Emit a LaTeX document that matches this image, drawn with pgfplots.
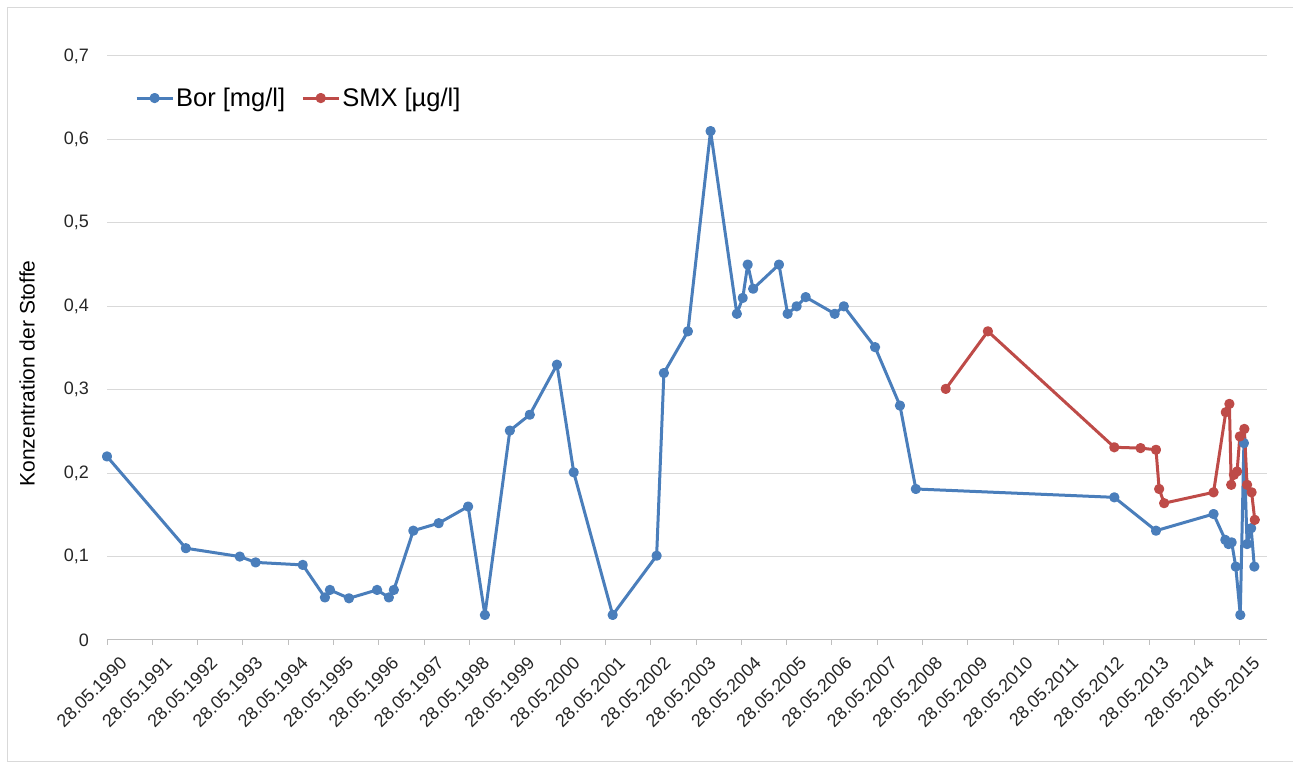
\documentclass[border=0pt]{standalone}
\usepackage{fontspec}
\setmainfont{Liberation Sans}
\usepackage{pgfplots}
\pgfplotsset{compat=1.18}

\definecolor{borblue}{HTML}{4A7EBB}
\definecolor{smxred}{HTML}{BE4B48}
\definecolor{gridgray}{HTML}{D9D9D9}
\definecolor{axgray}{HTML}{BFBFBF}

\begin{document}
\begin{tikzpicture}[x=1bp,y=1bp]
\path[use as bounding box] (0,0) rectangle (1293,765);
\draw[gridgray, line width=1bp] (1400,3) -- (7,3) -- (7,757) -- (1400,757);
\begin{axis}[
  at={(107bp,125bp)}, anchor=south west,
  scale only axis, width=1160bp, height=584bp,
  xmin=1990, xmax=2015.6, ymin=0, ymax=0.7,
  axis x line*=bottom, axis y line*=left,
  axis line style={-},
  y axis line style={draw=none},
  x axis line style={axgray, line width=1bp},
  xtick={1990,...,2015},
  xticklabels={28.05.1990,28.05.1991,28.05.1992,28.05.1993,28.05.1994,28.05.1995,28.05.1996,28.05.1997,28.05.1998,28.05.1999,28.05.2000,28.05.2001,28.05.2002,28.05.2003,28.05.2004,28.05.2005,28.05.2006,28.05.2007,28.05.2008,28.05.2009,28.05.2010,28.05.2011,28.05.2012,28.05.2013,28.05.2014,28.05.2015},
  xtick style={axgray, line width=1bp},
  tick align=outside, major tick length=5bp,
  ytick={0,0.1,...,0.7},
  ytick style={draw=none},
  ymajorgrids, grid style={gridgray, line width=1bp},
  /pgf/number format/assume math mode=true,
  yticklabel style={/pgf/number format/use comma, /pgf/number format/fixed,
    /pgf/number format/precision=1, anchor=east, inner sep=0pt, xshift=-13bp},
  xticklabel style={rotate=45, anchor=north east, inner sep=0pt, yshift=-16bp, xshift=1bp},
  tick label style={font=\fontsize{18bp}{21bp}\selectfont, text=black!85},
  every axis y label/.style={at={(rel axis cs:0,0.4565)}, xshift=-80bp, rotate=90,
    anchor=center, font=\fontsize{21bp}{25bp}\selectfont},
  ylabel={Konzentration der Stoffe},
  legend style={at={(rel axis cs:0.0241,0.928)}, anchor=west, draw=none, fill=none,
    inner sep=0pt, legend columns=-1,
    nodes={inner sep=2bp, anchor=west},
    font=\fontsize{25.5bp}{29bp}\selectfont},
  legend image code/.code={\draw[mark repeat=2,mark phase=2] plot coordinates {(0bp,0bp) (18bp,0bp) (36bp,0bp)};},
  /tikz/every even column/.append style={column sep=14bp},
  every axis plot/.append style={line width=3bp, line join=round, mark=*, mark size=3.6bp},
]
\addplot[borblue, mark options={fill=borblue, draw=borblue}] coordinates {
(1990.00,0.220) (1991.74,0.110) (1992.93,0.100) (1993.28,0.093) (1994.32,0.090)
(1994.81,0.051) (1994.92,0.060) (1995.34,0.050) (1995.96,0.060) (1996.22,0.051)
(1996.33,0.060) (1996.76,0.131) (1997.32,0.140) (1997.97,0.160) (1998.34,0.030)
(1998.89,0.251) (1999.33,0.270) (1999.93,0.330) (2000.30,0.201) (2001.16,0.030)
(2002.13,0.101) (2002.29,0.320) (2002.82,0.370) (2003.32,0.610) (2003.90,0.391)
(2004.03,0.410) (2004.14,0.450) (2004.26,0.421) (2004.83,0.450) (2005.02,0.391)
(2005.22,0.400) (2005.42,0.411) (2006.06,0.391) (2006.26,0.400) (2006.95,0.351)
(2007.50,0.281) (2007.85,0.181) (2012.23,0.171) (2013.15,0.131) (2014.42,0.151)
(2014.68,0.120) (2014.75,0.115) (2014.82,0.117) (2014.91,0.088) (2015.01,0.030)
(2015.09,0.236) (2015.16,0.115) (2015.25,0.134) (2015.32,0.088)
};
\addlegendentry{Bor [mg/l]}
\addplot[smxred, mark options={fill=smxred, draw=smxred}] coordinates {
(2008.51,0.301) (2009.44,0.370) (2012.23,0.231) (2012.81,0.230) (2013.15,0.228)
(2013.22,0.181) (2013.33,0.164) (2014.42,0.177) (2014.69,0.273) (2014.77,0.283)
(2014.81,0.186) (2014.87,0.198) (2014.94,0.202) (2015.00,0.244) (2015.10,0.253)
(2015.16,0.186) (2015.26,0.177) (2015.33,0.144)
};
\addlegendentry{SMX [µg/l]}
\end{axis}
\end{tikzpicture}
\end{document}
